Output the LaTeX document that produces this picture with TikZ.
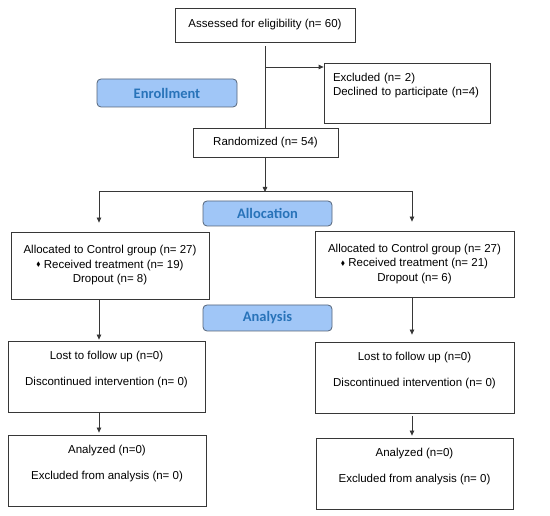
\documentclass[tikz,border=0pt]{standalone}
\usepackage{fontspec}
\setmainfont{Liberation Sans}
\newfontfamily\phasefont{Carlito}
\usepackage{amssymb}
\usetikzlibrary{arrows.meta, positioning}
\definecolor{cgline}{RGB}{55,55,55}
\definecolor{cgphase}{RGB}{160,198,247}
\definecolor{cgphaseline}{RGB}{85,100,120}
\definecolor{cgphasetext}{RGB}{40,115,185}
\tikzset{
    box/.style={draw=cgline, line width=0.8pt, fill=white, align=center, inner sep=0pt,
                font=\fontsize{11.5}{14.5}\selectfont},
    phase/.style={draw=cgphaseline, line width=0.8pt, fill=cgphase, rounded corners=4pt,
                  inner sep=0pt, text=cgphasetext, font=\phasefont\bfseries\fontsize{14.5}{16}\selectfont},
    arrow/.style={-{Triangle[length=5pt, width=4.5pt]}, line width=0.8pt, cgline},
    plain/.style={line width=0.8pt, cgline},
}
\newcommand{\dotmark}{\raisebox{1.5pt}{\scalebox{0.55}{$\blacklozenge$}}}

\begin{document}
\begin{tikzpicture}[x=1pt, y=-1pt]
    \useasboundingbox (0,0) rectangle (550,516);
    % enrollment
    \node[box, minimum width=180pt, minimum height=34pt] (assess) at (265,25) {Assessed for eligibility (n= 60)};
    \node[box, minimum width=166pt, minimum height=60pt, text width=148pt, align=left] (excl) at (407,93)
        {Excluded (n= 2)\\Declined to participate (n=4)\\[3pt]\mbox{}};
    \node[phase, minimum width=140pt, minimum height=28pt] (enroll) at (167,93) {Enrollment};
    \node[box, minimum width=145pt, minimum height=29pt] (rand) at (265.5,142.5) {Randomized (n= 54)};
    % allocation
    \node[phase, minimum width=129pt, minimum height=25pt] (alloc) at (267.5,213.5) {Allocation};
    \node[box, minimum width=198pt, minimum height=67pt] (lalloc) at (110,265.5)
        {Allocated to Control group (n= 27)\\\dotmark\ Received treatment (n= 19)\\Dropout (n= 8)};
    \node[box, minimum width=199pt, minimum height=66pt] (ralloc) at (414.5,264)
        {Allocated to Control group (n= 27)\\\dotmark\ Received treatment (n= 21)\\Dropout (n= 6)};
    % analysis
    \node[phase, minimum width=129pt, minimum height=26pt] (analysis) at (267.5,318) {Analysis};
    \node[box, minimum width=197pt, minimum height=71pt] (llost) at (106.5,376.5)
        {Lost to follow up (n=0)\\[11pt]Discontinued intervention (n= 0)\\[2pt]\mbox{}};
    \node[box, minimum width=199pt, minimum height=71pt] (rlost) at (414.5,377.5)
        {Lost to follow up (n=0)\\[11pt]Discontinued intervention (n= 0)\\[2pt]\mbox{}};
    \node[box, minimum width=198pt, minimum height=71pt] (lanal) at (107,470.5)
        {Analyzed (n=0)\\[11pt]Excluded from analysis (n= 0)\\[2pt]\mbox{}};
    \node[box, minimum width=197pt, minimum height=71pt] (ranal) at (414.5,473.5)
        {Analyzed (n=0)\\[11pt]Excluded from analysis (n= 0)\\[2pt]\mbox{}};

    \coordinate (exjoin) at (265,67);
    \coordinate (split) at (265,191);
    \coordinate (lsplit) at (99,191);
    \coordinate (rsplit) at (412,191);

    \draw[plain, shorten <=4pt] (exjoin |- assess.south) -- (exjoin |- rand.north);
    \draw[arrow] (exjoin) -- (exjoin -| excl.west);
    \draw[arrow, shorten >=-1pt] (split |- rand.south) -- (split);
    \draw[plain] (lsplit) -- (rsplit);
    \draw[arrow, shorten >=9pt] (lsplit) -- (lsplit |- lalloc.north);
    \draw[arrow, shorten >=9pt] (rsplit) -- (rsplit |- ralloc.north);
    \draw[arrow, shorten >=1pt] (lsplit |- lalloc.south) -- (lsplit |- llost.north);
    \draw[arrow, shorten >=7pt] (rsplit |- ralloc.south) -- (rsplit |- rlost.north);
    \draw[arrow, shorten >=2pt] (lsplit |- llost.south) -- (lsplit |- lanal.north);
    \draw[arrow, shorten <=3pt, shorten >=2pt] (rsplit |- rlost.south) -- (rsplit |- ranal.north);
\end{tikzpicture}
\end{document}
